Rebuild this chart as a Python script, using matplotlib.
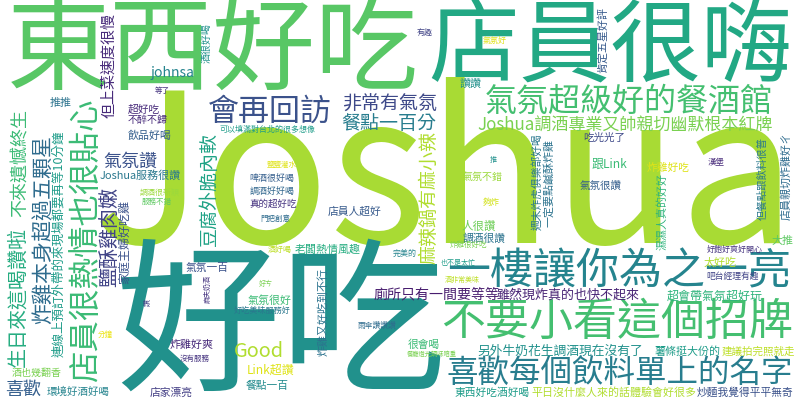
import matplotlib

matplotlib.use("Agg")
import matplotlib.pyplot as plt

plt.rcParams["font.family"] = ["Noto Sans CJK TC", "DejaVu Sans"]

# review phrases and their weight (font size in px of the word cloud)
words = [
    "東西好吃", "店員很嗨", "Joshua", "好吃", "會再回訪", "非常有氣氛", "餐點一百分",
    "氣氛超級好的餐酒館", "Joshua調酒專業又帥親切幽默根本紅牌", "一樓讓你為之一亮",
    "不要小看這個招牌", "喜歡每個飲料單上的名字", "廁所只有一間要等等", "雖然現炸真的也快不起來",
    "另外牛奶花生調酒現在沒有了", "薯條挺大份的", "建議拍完照就走", "東西好吃酒好喝",
    "平日沒什麼人來的話體驗會好很多", "炒麵我覺得平平無奇", "超會帶氣氛超好玩", "吧台經理有趣",
    "太好吃", "好飽好爽好開心", "大推", "人很讚", "調酒很讚", "氣氛不錯", "夠炸", "推",
    "炸雞很好吃", "也不是太忙", "酒非常美味", "完美的", "老闆熱情風趣", "店員人超好", "酒好喝",
    "啤酒很好喝", "調酒好好喝", "真的超好吃", "鹽鹽灌水", "門把創意", "可以填滿對台北的很多想像",
    "氣氛一百", "氣氛很好", "好吃美味服務好", "Good", "Link超讚", "餐點一百", "炸雞好爽",
    "沒有服務", "店家漂亮", "環境好酒好喝", "喜歡", "酒也幾翻香", "分鐘", "johnsa", "推推",
    "超好吃", "不醉不歸", "飲品好喝", "等了", "氣氛讚", "Joshua服務很讚", "調酒很新穎",
    "服務不錯", "有趣", "氣氛好", "讚讚", "吃光光了", "跟Link", "炸雞好吃", "氣氛很讚", "漢堡",
    "雨傘讚讚讚", "很會喝", "餐廳燈光調味暗重", "好ㄘ",
    "店員很熱情也很貼心", "但上菜速度很慢", "不來遺憾終生", "生日來這喝讚啦", "炸雞本身超過五顆星",
    "連線上預訂外帶的來現場都要再等10分鐘", "鹽酥雞肉嫩", "家庭主婦好吃雞", "豆腐外脆內軟",
    "麻辣鍋有麻小辣", "週末炸虎俱樂部好喝", "一定要點鹹酥炸雞", "肯定五星好評", "但餐點跟飲料很普",
    "店員親切炸雞好ㄔ", "濕濕人真的好好", "酒很好喝", "炸雞又好吃到不行", "麻夫奶酒", "讚",
]
weights = [
    103, 91, 208, 166, 31, 19, 19,
    32, 17, 43,
    44, 31.5, 14, 13,
    12.8, 11, 10.5, 10.7,
    11, 10.7, 12, 8.8,
    11, 8, 11, 11.5, 10.7, 10, 8.5, 7,
    7.5, 7, 7, 8, 11, 10.8, 8,
    9, 9, 9.5, 7.5, 7.5, 8,
    10.7, 11, 8.1, 20, 12, 10.7, 11,
    7.5, 10.7, 10.5, 18, 10, 7.5, 14, 11,
    10.7, 10, 11, 7.5, 18, 11, 8,
    7.5, 8, 8, 11, 10.5, 12, 10.7, 10.5, 8.5,
    7.8, 10.7, 6.3, 7,
    31.5, 15, 18, 20, 21,
    12.5, 20, 12, 19,
    19, 10.8, 11, 11, 10.4,
    11, 11, 10, 11, 7, 7,
]

# placement of each phrase: centre x, centre y (px from top-left), rotated, viridis tone
layout = [
    (213, 46, 0, 0.74), (610, 44, 0, 0.60), (445, 243, 0, 0.87), (281, 320, 0, 0.50),
    (270, 110, 0, 0.25), (390, 103, 0, 0.22), (389, 122, 0, 0.42),
    (629, 100, 0, 0.70), (625, 124, 0, 0.80), (619, 270, 0, 0.45),
    (617, 319, 0, 0.70), (620, 372, 0, 0.42), (437, 294, 0, 0.08), (568, 294, 0, 0.10),
    (560, 351, 0, 0.50), (688, 351, 0, 0.55), (758, 351, 0, 0.90), (492, 392, 0, 0.55),
    (614, 392, 0, 0.88), (745, 392, 0, 0.25), (715, 296, 0, 0.65), (733, 276, 0, 0.20),
    (720, 262, 0, 0.88), (735, 249, 0, 0.15), (782, 240, 0, 0.75), (479, 226, 0, 0.78),
    (484, 238, 0, 0.38), (483, 176, 0, 0.85), (491, 202, 0, 0.93), (493, 160, 0, 0.50),
    (468, 245, 0, 0.80), (458, 262, 0, 0.55), (462, 280, 0, 0.90), (405, 253, 0, 0.45),
    (328, 249, 0, 0.62), (355, 211, 0, 0.28), (280, 249, 0, 0.90),
    (272, 178, 0, 0.30), (272, 191, 0, 0.33), (273, 204, 0, 0.15), (282, 165, 0, 0.95),
    (275, 219, 0, 0.35), (267, 129, 0, 0.55),
    (207, 267, 0, 0.25), (270, 300, 0, 0.68), (262, 310, 0, 0.40), (259, 350, 0, 0.88),
    (271, 370, 0, 0.95), (267, 385, 0, 0.48), (192, 344, 0, 0.12),
    (195, 358, 0, 0.15), (171, 392, 0, 0.18), (78, 391, 0, 0.45), (23, 389, 0, 0.30),
    (37, 372, 0, 0.80), (105, 334, 0, 0.97), (173, 72, 0, 0.45), (61, 102, 0, 0.38),
    (144, 109, 0, 0.12), (148, 119, 0, 0.12), (150, 135, 0, 0.30), (162, 91, 0, 0.15),
    (130, 161, 0, 0.25), (140, 175, 0, 0.40), (160, 192, 0, 0.85),
    (157, 202, 0, 0.75), (425, 32, 0, 0.20), (495, 40, 0, 0.95), (471, 83, 0, 0.50),
    (604, 137, 0, 0.22), (609, 164, 0, 0.68), (668, 167, 0, 0.95), (601, 185, 0, 0.30),
    (716, 162, 0, 0.12),
    (377, 325, 0, 0.35), (424, 344, 0, 0.68), (432, 354, 0, 0.80), (266, 284, 0, 0.80),
    (84, 240, 1, 0.68), (108, 65, 1, 0.12), (20, 163, 1, 0.68), (17, 297, 1, 0.62),
    (42, 230, 1, 0.35),
    (58, 244, 1, 0.55), (108, 237, 1, 0.20), (124, 242, 1, 0.25), (208, 189, 1, 0.58),
    (428, 197, 1, 0.88), (536, 182, 1, 0.40), (548, 183, 1, 0.38), (602, 40, 1, 0.28),
    (762, 178, 1, 0.40),
    (786, 176, 1, 0.35), (661, 212, 1, 0.65), (206, 43, 1, 0.50), (322, 312, 1, 0.38),
    (207, 289, 1, 0.15), (147, 303, 1, 0.20),
]

PX_TO_PT = 72 / 100

fig = plt.figure(figsize=(8, 4), dpi=100)
ax = fig.add_axes([0, 0, 1, 1])
ax.set_xlim(0, 800)
ax.set_ylim(400, 0)
ax.axis("off")

for word, size, (x, y, rotated, tone) in zip(words, weights, layout):
    color = plt.cm.viridis(tone)
    if word == "Joshua":
        ax.text(x, y, word, fontsize=size * PX_TO_PT, color=color,
                ha="center", va="baseline")
        continue
    # nudge so the glyph ink (not the text box) sits on the centre
    if rotated:
        ax.text(x + 0.06 * size, y, word, fontsize=size * PX_TO_PT, color=color,
                rotation=90, ha="center", va="center")
    else:
        ax.text(x, y + 0.06 * size, word, fontsize=size * PX_TO_PT, color=color,
                ha="center", va="center")

fig.savefig("out.png", dpi=100, facecolor="white")
